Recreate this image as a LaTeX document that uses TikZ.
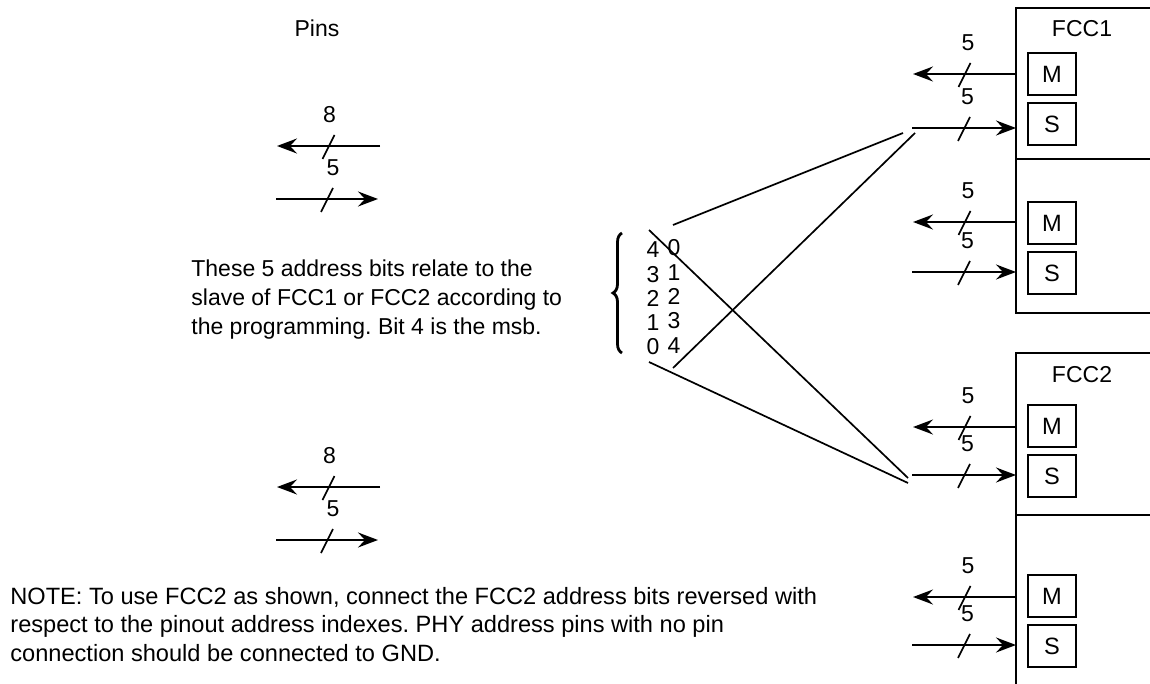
\documentclass[tikz,border=0pt]{standalone}
\usepackage{fontspec}
\setmainfont{Liberation Sans}
\usetikzlibrary{arrows.meta, decorations.pathreplacing}
\frenchspacing

\begin{document}
\begin{tikzpicture}[x=0.5pt, y=-0.5pt,
  wire/.style={line width=1.1pt},
  link/.style={line width=0.85pt},
  bus/.style={line width=1.1pt, -{Stealth[length=10pt, width=7.5pt, inset=3.5pt]}},
  lbl/.style={font=\fontsize{11.5}{14}\selectfont, inner sep=0pt},
  port/.style={draw, line width=1.1pt, minimum width=24pt, minimum height=21pt, inner sep=0pt, font=\fontsize{11.8}{14}\selectfont},
  para/.style={font=\fontsize{11.5}{14.5}\selectfont, align=left, inner sep=0pt, anchor=north west},
  slash/.pic={\draw[-, line width=0.8pt] (-6,13) -- (6,-11);},
]
  \useasboundingbox (0,0) rectangle (1150,684);

  % left side: pins
  \node[lbl] (pins) at (317,28) {Pins};

  \coordinate (pa1) at (380,146); \coordinate (pb1) at (277,146);
  \coordinate (pa2) at (276,199); \coordinate (pb2) at (378,199);
  \coordinate (pa3) at (380,487); \coordinate (pb3) at (277,487);
  \coordinate (pa4) at (276,540); \coordinate (pb4) at (378,540);
  \draw[bus] (pa1) -- (pb1) pic[midway]{slash} node[lbl, midway, xshift=0.5pt, yshift=15.5pt] (w1) {8};
  \draw[bus] (pa2) -- (pb2) pic[midway]{slash} node[lbl, midway, xshift=3pt, yshift=15.5pt] (w2) {5};
  \draw[bus] (pa3) -- (pb3) pic[midway]{slash} node[lbl, midway, xshift=0.5pt, yshift=15.5pt] (w3) {8};
  \draw[bus] (pa4) -- (pb4) pic[midway]{slash} node[lbl, midway, xshift=3pt, yshift=15.5pt] (w4) {5};

  \node[para] (bits) at (191,259) {These 5 address bits relate to the\\slave of FCC1 or FCC2 according to\\the programming. Bit 4 is the msb.};
  \node[para, font=\fontsize{11.8}{14.2}\selectfont] (note) at (10,587) {NOTE: To use FCC2 as shown, connect the FCC2 address bits reversed with\\respect to the pinout address indexes. PHY address pins with no pin\\connection should be connected to GND.};

  % address index columns
  \draw[line width=1.4pt, decorate, decoration={brace, amplitude=4.5pt}] (622,353) -- (622,233);
  \node[lbl, align=center, font=\fontsize{11.5}{12.15}\selectfont] (idxl) at (653,298.5) {4\\3\\2\\1\\0};
  \node[lbl, align=center, font=\fontsize{11.5}{12.15}\selectfont] (idxr) at (674,296.5) {0\\1\\2\\3\\4};

  % FCC blocks
  \draw[wire] (1150,8) -| (1016,313) -- (1150,313);
  \draw[wire] (1016,159) -- (1150,159);
  \draw[wire] (1150,353) -| (1016,684);
  \draw[wire] (1016,515) -- (1150,515);
  \node[lbl] (fcc1) at (1082,29) {FCC1};
  \node[lbl] (fcc2) at (1082,375) {FCC2};

  \foreach \p/\ym/\ys/\yo/\yi in {1/74/124/74/128, 2/223/273/222/272, 3/426/476/427/475, 4/596/646/597/645}{
    \node[port] (m\p) at (1052,\ym) {M};
    \node[port] (s\p) at (1052,\ys) {S};
    \coordinate (mo\p) at (1016,\yo); \coordinate (mt\p) at (913,\yo);
    \coordinate (sf\p) at (912,\yi); \coordinate (si\p) at (1016,\yi);
    \draw[bus] (mo\p) -- (mt\p) pic[midway]{slash} node[lbl, midway, xshift=1.75pt, yshift=15.5pt] (mw\p) {5};
    \draw[bus] (sf\p) -- (si\p) pic[midway]{slash} node[lbl, midway, xshift=1.75pt, yshift=15.5pt] (sw\p) {5};
  }

  % crossing address lines
  \coordinate (xa) at (673,225); \coordinate (ya) at (903,133);
  \coordinate (xb) at (673,368); \coordinate (yb) at (915,133);
  \coordinate (xc) at (649,230); \coordinate (yc) at (908,478);
  \coordinate (xd) at (649,362); \coordinate (yd) at (908,483);
  \draw[link] (xa) -- (ya);
  \draw[link] (xb) -- (yb);
  \draw[link] (xc) -- (yc);
  \draw[link] (xd) -- (yd);

\end{tikzpicture}
\end{document}
